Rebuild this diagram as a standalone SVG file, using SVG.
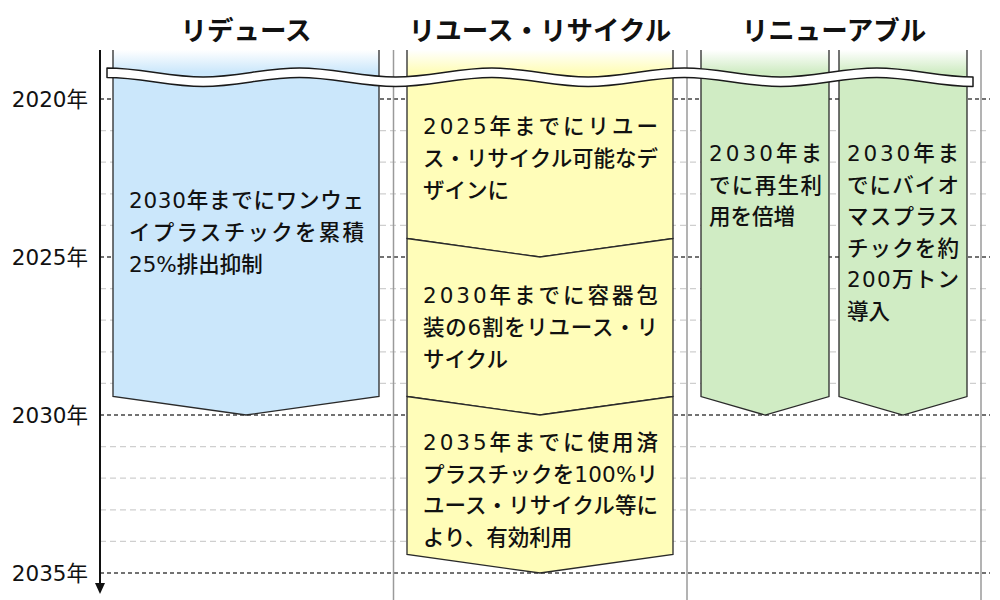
<svg xmlns="http://www.w3.org/2000/svg" width="1000" height="600" viewBox="0 0 1000 600">
<defs>
<linearGradient id="gBlue" gradientUnits="userSpaceOnUse" x1="0" y1="50" x2="0" y2="72"><stop offset="0" stop-color="#ffffff"/><stop offset="1" stop-color="#cbe7fb"/></linearGradient>
<linearGradient id="gYellow" gradientUnits="userSpaceOnUse" x1="0" y1="50" x2="0" y2="72"><stop offset="0" stop-color="#ffffff"/><stop offset="1" stop-color="#fffdb9"/></linearGradient>
<linearGradient id="gGreen" gradientUnits="userSpaceOnUse" x1="0" y1="50" x2="0" y2="72"><stop offset="0" stop-color="#ffffff"/><stop offset="1" stop-color="#d0ecc4"/></linearGradient>
</defs>
<style>
.hdr{font-family:"Noto Sans CJK JP",sans-serif;font-weight:700;font-size:26.5px;fill:#111;text-anchor:middle}
.yr{font-family:"DejaVu Sans","Noto Sans CJK JP",sans-serif;font-size:21.5px;fill:#111;text-anchor:end}
.t{font-family:"DejaVu Sans","Noto Sans CJK JP",sans-serif;font-size:21.5px;font-weight:500;fill:#111}
.lg{stroke:#cfcfcf;stroke-width:1.2;stroke-dasharray:6 4;fill:none}
.dg{stroke:#444;stroke-width:1.3;stroke-dasharray:4 3;fill:none}
.sep{stroke:#9a9a9a;stroke-width:1.5;fill:none}
.edge{stroke:#2a2a2a;stroke-width:1.3;fill:none;stroke-linejoin:miter}
</style>
<rect width="1000" height="600" fill="#ffffff"/>

<g id="grid">
<line class="lg" x1="100" y1="130.6" x2="990" y2="130.6"/>
<line class="lg" x1="100" y1="162.2" x2="990" y2="162.2"/>
<line class="lg" x1="100" y1="193.8" x2="990" y2="193.8"/>
<line class="lg" x1="100" y1="225.4" x2="990" y2="225.4"/>
<line class="lg" x1="100" y1="288.6" x2="990" y2="288.6"/>
<line class="lg" x1="100" y1="320.2" x2="990" y2="320.2"/>
<line class="lg" x1="100" y1="351.8" x2="990" y2="351.8"/>
<line class="lg" x1="100" y1="383.4" x2="990" y2="383.4"/>
<line class="lg" x1="100" y1="446.6" x2="990" y2="446.6"/>
<line class="lg" x1="100" y1="478.2" x2="990" y2="478.2"/>
<line class="lg" x1="100" y1="509.8" x2="990" y2="509.8"/>
<line class="lg" x1="100" y1="541.4" x2="990" y2="541.4"/>
<line class="dg" x1="100" y1="99" x2="990" y2="99"/>
<line class="dg" x1="100" y1="257" x2="990" y2="257"/>
<line class="dg" x1="100" y1="415" x2="990" y2="415"/>
<line class="dg" x1="100" y1="573" x2="990" y2="573"/>
<line class="sep" x1="393.5" y1="50" x2="393.5" y2="600"/>
<line class="sep" x1="687" y1="50" x2="687" y2="600"/>
<line class="sep" x1="981" y1="50" x2="981" y2="600"/>
</g>

<g id="headers">
<text class="hdr" x="246" y="40">リデュース</text>
<text class="hdr" x="540" y="40">リユース・リサイクル</text>
<text class="hdr" x="834" y="40">リニューアブル</text>
</g>

<g id="years">
<text class="yr" x="88" y="107">2020年</text>
<text class="yr" x="88" y="265">2025年</text>
<text class="yr" x="88" y="423">2030年</text>
<text class="yr" x="88" y="581">2035年</text>
</g>

<g id="reduce">
<path d="M113,50 L379,50 L379,396.5 L246,415 L113,396.5 Z" fill="url(#gBlue)"/>
<path class="edge" d="M113,50 L113,396.5 L246,415 L379,396.5 L379,50"/>
<text class="t" x="129" y="208" textLength="235" lengthAdjust="spacing">2030年までにワンウェ</text>
<text class="t" x="129" y="240" textLength="235" lengthAdjust="spacing">イプラスチックを累積</text>
<text class="t" x="129" y="272">25%排出抑制</text>
</g>

<g id="reuse-2025">
<path d="M407,50 L673,50 L673,238.5 L540,257 L407,238.5 Z" fill="url(#gYellow)"/>
<path class="edge" d="M407,50 L407,238.5 L540,257 L673,238.5 L673,50"/>
<text class="t" x="423" y="134" textLength="235" lengthAdjust="spacing">2025年までにリユー</text>
<text class="t" x="423" y="166" textLength="235" lengthAdjust="spacing">ス・リサイクル可能なデ</text>
<text class="t" x="423" y="198">ザインに</text>
</g>

<g id="reuse-2030">
<path class="edge" style="fill:#fffdb9" d="M407,238.5 L540,257 L673,238.5 L673,396.5 L540,415 L407,396.5 Z"/>
<text class="t" x="423" y="303" textLength="235" lengthAdjust="spacing">2030年までに容器包</text>
<text class="t" x="423" y="335" textLength="235" lengthAdjust="spacing">装の6割をリユース・リ</text>
<text class="t" x="423" y="367">サイクル</text>
</g>

<g id="reuse-2035">
<path class="edge" style="fill:#fffdb9" d="M407,396.5 L540,415 L673,396.5 L673,554.5 L540,573 L407,554.5 Z"/>
<text class="t" x="423" y="450" textLength="235" lengthAdjust="spacing">2035年までに使用済</text>
<text class="t" x="423" y="481.6" textLength="235" lengthAdjust="spacing">プラスチックを100%リ</text>
<text class="t" x="423" y="513.2" textLength="235" lengthAdjust="spacing">ユース・リサイクル等に</text>
<text class="t" x="423" y="544.8">より、有効利用</text>
</g>

<g id="renew-recycled">
<path d="M701,50 L829,50 L829,396.5 L765,415 L701,396.5 Z" fill="url(#gGreen)"/>
<path class="edge" d="M701,50 L701,396.5 L765,415 L829,396.5 L829,50"/>
<text class="t" x="709" y="161" textLength="113" lengthAdjust="spacing">2030年ま</text>
<text class="t" x="709" y="192.6" textLength="113" lengthAdjust="spacing">でに再生利</text>
<text class="t" x="709" y="224.2">用を倍増</text>
</g>

<g id="renew-biomass">
<path d="M839,50 L967,50 L967,396.5 L903,415 L839,396.5 Z" fill="url(#gGreen)"/>
<path class="edge" d="M839,50 L839,396.5 L903,415 L967,396.5 L967,50"/>
<text class="t" x="847" y="161" textLength="112" lengthAdjust="spacing">2030年ま</text>
<text class="t" x="847" y="192.6" textLength="112" lengthAdjust="spacing">でにバイオ</text>
<text class="t" x="847" y="224.2" textLength="112" lengthAdjust="spacing">マスプラス</text>
<text class="t" x="847" y="255.8" textLength="112" lengthAdjust="spacing">チックを約</text>
<text class="t" x="847" y="287.4" textLength="112" lengthAdjust="spacing">200万トン</text>
<text class="t" x="847" y="319">導入</text>
</g>

<g id="connectors">
<line x1="100" y1="50" x2="100" y2="584" stroke="#111" stroke-width="2"/>
<polygon points="95,583 105,583 100,594" fill="#111"/>
</g>

<g id="wave-break">
<path d="M107,68 C142.04,68 168.18,77 203.22,77 C238.26,77 264.4,68 299.44,68 C334.48,68 360.63,77 395.67,77 C430.71,77 456.85,68 491.89,68 C526.93,68 553.07,77 588.11,77 C623.15,77 649.29,68 684.33,68 C719.37,68 745.52,77 780.56,77 C815.6,77 841.74,68 876.78,68 C911.82,68 937.96,77 973,77 L973,86.5 C937.96,86.5 911.82,77.5 876.78,77.5 C841.74,77.5 815.6,86.5 780.56,86.5 C745.52,86.5 719.37,77.5 684.33,77.5 C649.29,77.5 623.15,86.5 588.11,86.5 C553.07,86.5 526.93,77.5 491.89,77.5 C456.85,77.5 430.71,86.5 395.67,86.5 C360.63,86.5 334.48,77.5 299.44,77.5 C264.4,77.5 238.26,86.5 203.22,86.5 C168.18,86.5 142.04,77.5 107,77.5 Z" fill="#ffffff" stroke="#1a1a1a" stroke-width="1.5" stroke-linejoin="round"/>
</g>
</svg>
